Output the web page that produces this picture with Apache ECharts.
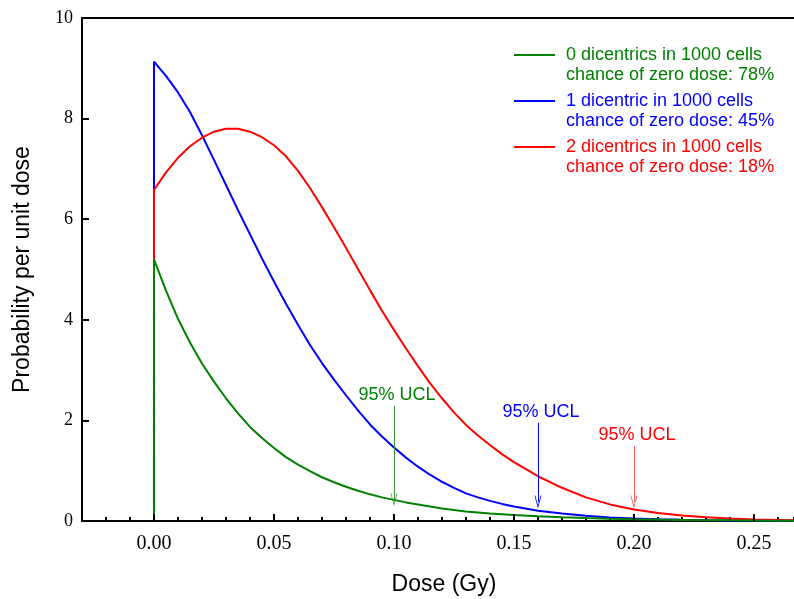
<!DOCTYPE html>
<html>
<head>
<meta charset="utf-8">
<script src="https://cdn.jsdelivr.net/npm/echarts@6/dist/echarts.min.js"></script>
<style>
  html, body { margin: 0; padding: 0; background: #fff; }
  #chart { width: 794px; height: 599px; }
</style>
</head>
<body>
<div id="chart"></div>
<script>
// dose (Gy) and probability per unit dose
const doses = [0, 0.005, 0.01, 0.015, 0.02, 0.025, 0.03, 0.035, 0.04, 0.045, 0.05, 0.055, 0.06,
  0.065, 0.07, 0.075, 0.08, 0.085, 0.09, 0.095, 0.10, 0.105, 0.11, 0.115, 0.12, 0.125, 0.13,
  0.135, 0.14, 0.145, 0.15, 0.16, 0.17, 0.18, 0.19, 0.20, 0.21, 0.22, 0.23, 0.24, 0.25, 0.267];
const zeroDic = [5.2, 4.58, 4.02, 3.55, 3.13, 2.77, 2.44, 2.14, 1.87, 1.65, 1.45, 1.27, 1.12,
  0.99, 0.87, 0.77, 0.68, 0.60, 0.53, 0.47, 0.42, 0.37, 0.33, 0.29, 0.25, 0.22, 0.19,
  0.17, 0.15, 0.135, 0.12, 0.095, 0.075, 0.058, 0.045, 0.035, 0.028, 0.022, 0.017, 0.013, 0.01, 0.007];
const oneDic = [9.13, 8.85, 8.52, 8.13, 7.67, 7.18, 6.68, 6.18, 5.70, 5.22, 4.76, 4.32, 3.90,
  3.50, 3.14, 2.81, 2.50, 2.20, 1.92, 1.68, 1.46, 1.26, 1.08, 0.92, 0.78, 0.66, 0.55,
  0.47, 0.40, 0.34, 0.29, 0.205, 0.15, 0.105, 0.07, 0.048, 0.034, 0.024, 0.017, 0.012, 0.008, 0.005];
const twoDic = [6.58, 6.93, 7.22, 7.45, 7.62, 7.74, 7.80, 7.80, 7.74, 7.63, 7.47, 7.25, 6.96,
  6.62, 6.24, 5.84, 5.43, 5.01, 4.59, 4.18, 3.80, 3.43, 3.08, 2.74, 2.44, 2.16, 1.91,
  1.70, 1.51, 1.33, 1.17, 0.89, 0.66, 0.47, 0.33, 0.23, 0.16, 0.11, 0.075, 0.05, 0.032, 0.016];

const seriesNames = ['0 dicentrics in 1000 cells\nchance of zero dose: 78%',
  '1 dicentric in 1000 cells\nchance of zero dose: 45%',
  '2 dicentrics in 1000 cells\nchance of zero dose: 18%'];
const colors = ['#008000', '#0000ff', '#ff0000'];
const arrowColors = ['#3a9a3a', '#0000ff', '#ff5a5a'];
// 95% UCL arrows: x, top of arrow, tip of arrow
const uclX = [0.10, 0.16, 0.20];
const uclTop = [2.29, 1.95, 1.49];
const uclTip = [0.42, 0.38, 0.38];

const xTickLabels = ['0.00', '0.05', '0.10', '0.15', '0.20', '0.25'];
const majorTicks = [0, 0.05, 0.10, 0.15, 0.20, 0.25];

const sans = 'Liberation Sans';
const serif = 'Liberation Serif';

const legendIcon = 'path://M0,0L0.01,0L0,0.01Z M0,9L41,9L41,11L0,11Z M47,40L46.99,40L47,39.99Z';
const arrowHead = 'path://M0,0L4,12L3.1,12L0,2.8L-3.1,12L-4,12Z';

const myChart = echarts.init(document.getElementById('chart'));

const dataSets = [zeroDic, oneDic, twoDic];
const zs = [4, 2, 3];

const series = dataSets.map((d, i) => ({
  name: seriesNames[i],
  type: 'line',
  // curve starts with a vertical rise at zero dose
  data: [[0, 0]].concat(d.map((v, j) => [doses[j], v])),
  z: zs[i],
  showSymbol: false,
  smooth: false,
  lineStyle: { color: colors[i], width: 2 },
  itemStyle: { color: colors[i] },
  markLine: {
    silent: true,
    animation: false,
    symbol: ['none', arrowHead],
    symbolSize: [7, 13],
    lineStyle: { color: arrowColors[i], width: 1, type: 'solid' },
    label: {
      show: true, position: 'start', distance: 2, formatter: '95% UCL',
      color: colors[i], fontFamily: sans, fontSize: 18, padding: [0, 0, 0, 6]
    },
    data: [[{ coord: [uclX[i], uclTop[i]] }, { coord: [uclX[i], uclTip[i]] }]]
  }
}));

// longer ticks at labelled doses
series.push({
  type: 'custom',
  silent: true,
  z: 5,
  data: majorTicks.map(v => [v, 0]),
  encode: { x: 0, y: 1 },
  renderItem: (params, api) => {
    const p = api.coord([api.value(0), 0]);
    return {
      type: 'line',
      shape: { x1: p[0], y1: p[1], x2: p[0], y2: p[1] - 7 },
      style: { stroke: '#000', lineWidth: 2 }
    };
  }
});

const option = {
  animation: false,
  backgroundColor: '#fff',
  grid: { left: 82, right: 0, top: 18, bottom: 78, containLabel: false, outerBoundsMode: 'none' },
  legend: {
    left: 509,
    top: 40,
    orient: 'vertical',
    itemWidth: 47,
    itemHeight: 40,
    itemGap: 6,
    icon: legendIcon,
    itemStyle: { borderWidth: 0 },
    textStyle: { fontFamily: sans, fontSize: 18, lineHeight: 20 },
    data: seriesNames.map((n, i) => ({ name: n, textStyle: { color: colors[i] } }))
  },
  xAxis: [{
    type: 'value',
    min: -0.03,
    max: 0.2667,
    interval: 0.01,
    name: 'Dose (Gy)',
    nameLocation: 'middle',
    nameGap: 52,
    nameTextStyle: { fontFamily: sans, fontSize: 23, color: '#000', padding: [0, 0, 0, 12] },
    axisLine: { onZero: false, lineStyle: { color: '#000', width: 2 } },
    axisTick: { inside: true, length: 4, lineStyle: { color: '#000', width: 2 } },
    axisLabel: {
      margin: 13, fontFamily: serif, fontSize: 20, color: '#000',
      formatter: v => {
        const i = majorTicks.findIndex(t => Math.abs(t - v) < 1e-6);
        return i >= 0 ? xTickLabels[i] : '';
      }
    },
    splitLine: { show: false }
  }, {
    type: 'value',
    position: 'top',
    min: -0.03,
    max: 0.2667,
    axisLine: { show: true, onZero: false, lineStyle: { color: '#000', width: 2 } },
    axisTick: { show: false },
    axisLabel: { show: false },
    splitLine: { show: false }
  }],
  yAxis: {
    type: 'value',
    min: 0,
    max: 10,
    interval: 2,
    name: 'Probability per unit dose',
    nameLocation: 'middle',
    nameRotate: 90,
    nameGap: 48,
    nameTextStyle: { fontFamily: sans, fontSize: 23, color: '#000' },
    axisLine: { show: true, onZero: false, lineStyle: { color: '#000', width: 2 } },
    axisTick: { show: true, inside: true, length: 7, lineStyle: { color: '#000', width: 2 } },
    axisLabel: { margin: 9, fontFamily: serif, fontSize: 18, color: '#000' },
    splitLine: { show: false }
  },
  series: series
};

myChart.setOption(option);
</script>
</body>
</html>
